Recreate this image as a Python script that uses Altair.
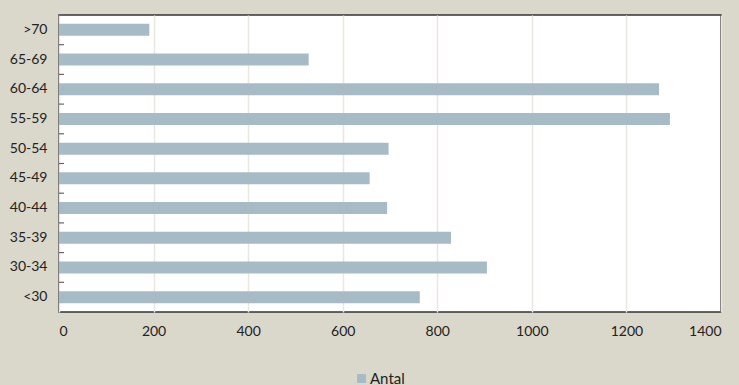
import altair as alt
import pandas as pd

categories = [">70", "65-69", "60-64", "55-59", "50-54", "45-49", "40-44", "35-39", "30-34", "<30"]
values = [191, 528, 1269, 1292, 697, 657, 694, 829, 905, 763]
series_name = "Antal"
x_ticks = [0, 200, 400, 600, 800, 1000, 1200, 1400]

df = pd.DataFrame({"Åldersgrupp": categories, "Antal": values, "serie": [series_name] * len(categories)})

FONT = "Lato"
BG = "#DAD7CB"
BAR = "#A7BBC7"

y_scale = alt.Scale(paddingInner=0, paddingOuter=0)

bars = alt.Chart(df).mark_bar(size=12).encode(
    x=alt.X("Antal:Q", scale=alt.Scale(domain=[0, 1400], nice=False),
            axis=alt.Axis(title=None, values=x_ticks, format="d", ticks=False, domain=False,
                          grid=True, gridColor="#E9E7DF", gridWidth=1.5,
                          labelPadding=12, labelFontSize=14, labelColor="#222222",
                          labelFont=FONT)),
    y=alt.Y("Åldersgrupp:N", sort=categories, scale=y_scale,
            axis=alt.Axis(title=None, ticks=False, domain=False, labelPadding=12,
                          labelFontSize=14, labelColor="#222222", labelFont=FONT)),
    color=alt.Color("serie:N", scale=alt.Scale(range=[BAR]),
                    legend=alt.Legend(title=None, orient="none", legendX=295, legendY=356,
                                      symbolType="square", symbolSize=80,
                                      symbolStrokeWidth=0, labelFontSize=15,
                                      labelFont=FONT, labelColor="#222222",
                                      labelOffset=1)),
)

ticks = alt.Chart(df).mark_rule(color="#666666", strokeWidth=1.2).encode(
    y=alt.Y("Åldersgrupp:N", sort=categories, scale=y_scale, bandPosition=0),
    x=alt.value(0),
    x2=alt.value(5),
)

chart = alt.layer(bars, ticks).properties(
    width=662, height=297,
    background=BG,
    padding={"left": 59, "top": 15, "right": 18, "bottom": 73},
    autosize=alt.AutoSizeParams(type="none"),
).configure_view(
    fill="white", stroke="#333333", strokeWidth=1.5,
)

chart.save("out.html", embed_options={"renderer": "svg", "actions": False})
